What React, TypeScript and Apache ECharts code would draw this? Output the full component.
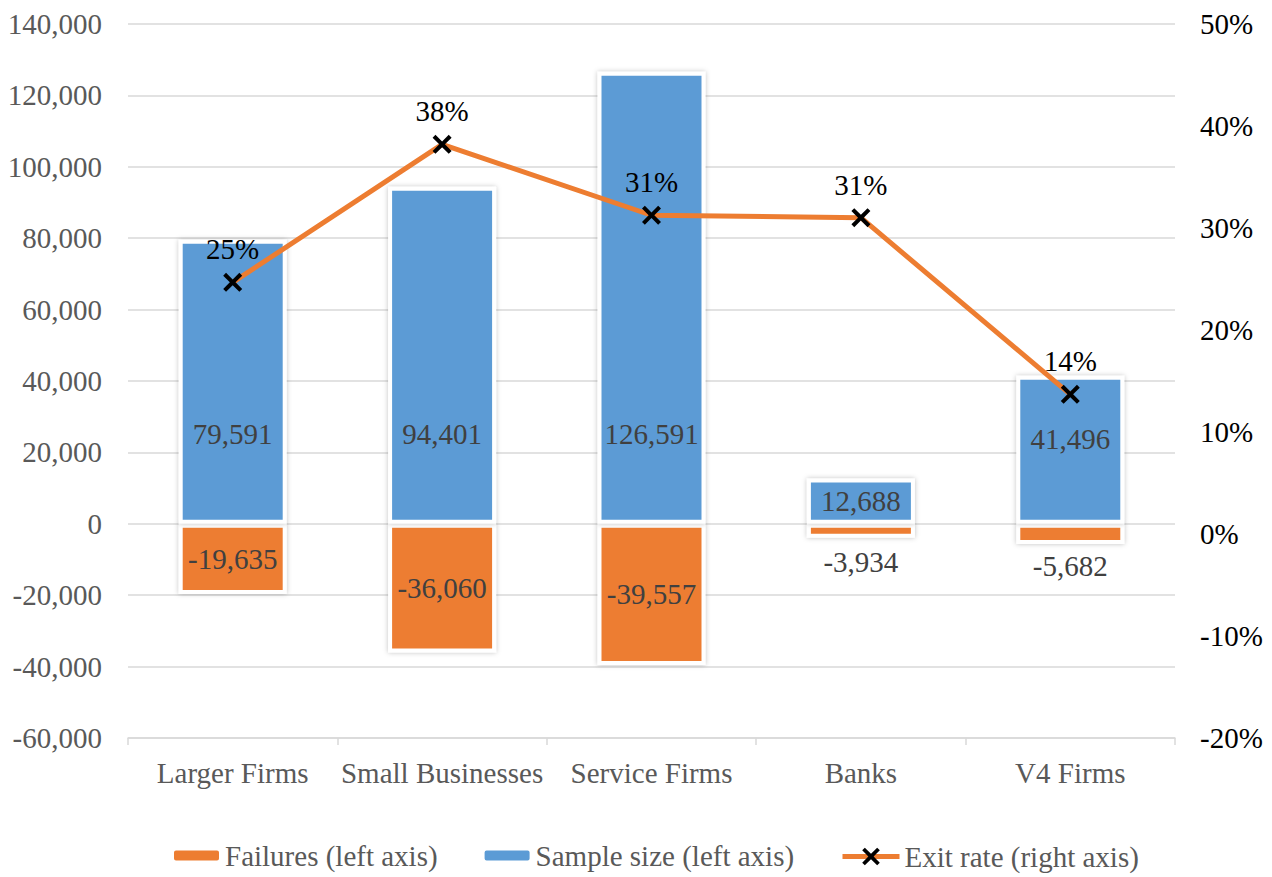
import React, { useEffect, useRef } from "react";
import * as echarts from "echarts";

const categories = ["Larger Firms", "Small Businesses", "Service Firms", "Banks", "V4 Firms"];
const failures = [-19635, -36060, -39557, -3934, -5682];
const sampleSize = [79591, 94401, 126591, 12688, 41496];
const exitRate = [24.67, 38.2, 31.25, 31.01, 13.69];

const leftMin = -60000;
const leftMax = 140000;
const leftInterval = 20000;
const rightMin = -20;
const rightMax = 50;
const rightInterval = 10;

const FONT = "'Liberation Serif', 'Times New Roman', serif";
const FS = 29;
const ORANGE = "#ED7D31";
const BLUE = "#5B9BD5";

// label placement styles (not data)
const sampleLabelStyle = [
  { position: "insideBottom", distance: 75 },
  { position: "insideBottom", distance: 75 },
  { position: "insideBottom", distance: 75 },
  { position: "inside" },
  { position: "insideBottom", distance: 70 },
];
const failureLabelStyle = [
  { position: "inside" },
  { position: "inside" },
  { position: "inside" },
  { position: "bottom", distance: 10 },
  { position: "bottom", distance: 7 },
];

const X_SYMBOL =
  "path://M3,0 L10,7 L17,0 L20,3 L13,10 L20,17 L17,20 L10,13 L3,20 L0,17 L7,10 L0,3 Z";

const fmt = (v: number) => v.toLocaleString("en-US");

export default function App() {
  const ref = useRef<HTMLDivElement>(null);

  useEffect(() => {
    if (!ref.current) return;
    const chart = echarts.init(ref.current, undefined, { renderer: "svg" });

    const barItemStyle = {
      borderColor: "#ffffff",
      borderWidth: 4,
      shadowBlur: 5,
      shadowColor: "rgba(0,0,0,0.25)",
    };

    const legendText = { fontFamily: FONT, fontSize: FS, color: "#595959" };

    const option: any = {
      animation: false,
      textStyle: { fontFamily: FONT },
      grid: { left: 128, right: 97, top: 24, bottom: 139, containLabel: false },
      legend: [
        {
          left: 167,
          top: 836,
          itemWidth: 47,
          itemHeight: 12,
          itemGap: 45,
          textStyle: legendText,
          data: ["Failures (left axis)", "Sample size (left axis)"],
        },
        {
          left: 835,
          top: 837,
          itemWidth: 57,
          itemHeight: 22,
          textStyle: legendText,
          lineStyle: { width: 5 },
          data: ["Exit rate (right axis)"],
        },
      ],
      xAxis: {
        type: "category",
        data: categories,
        axisLine: { onZero: false, lineStyle: { color: "#d9d9d9", width: 1.5 } },
        axisTick: { show: true, length: 7, lineStyle: { color: "#d9d9d9", width: 1.5 } },
        axisLabel: { fontFamily: FONT, fontSize: FS, color: "#595959", margin: 20, interval: 0 },
      },
      yAxis: [
        {
          type: "value",
          min: leftMin,
          max: leftMax,
          interval: leftInterval,
          axisLine: { show: false },
          axisTick: { show: false },
          splitLine: { lineStyle: { color: "#d9d9d9", width: 1.5 } },
          axisLabel: {
            fontFamily: FONT,
            fontSize: FS,
            color: "#595959",
            margin: 26,
            formatter: (v: number) => fmt(v),
          },
        },
        {
          type: "value",
          min: rightMin,
          max: rightMax,
          interval: rightInterval,
          axisLine: { show: false },
          axisTick: { show: false },
          splitLine: { show: false },
          axisLabel: {
            fontFamily: FONT,
            fontSize: FS,
            color: "#000000",
            margin: 25,
            formatter: (v: number) => `${Math.round(v)}%`,
          },
        },
      ],
      series: [
        {
          name: "Failures (left axis)",
          type: "bar",
          stack: "total",
          barWidth: 108,
          itemStyle: { color: ORANGE, ...barItemStyle },
          data: failures.map((v, i) => ({
            value: v,
            label: { show: true, ...failureLabelStyle[i] },
          })),
          label: {
            show: true,
            fontFamily: FONT,
            fontSize: FS,
            color: "#404040",
            formatter: (p: any) => fmt(p.value),
          },
        },
        {
          name: "Sample size (left axis)",
          type: "bar",
          stack: "total",
          barWidth: 108,
          itemStyle: { color: BLUE, ...barItemStyle },
          data: sampleSize.map((v, i) => ({
            value: v,
            label: { show: true, ...sampleLabelStyle[i] },
          })),
          label: {
            show: true,
            fontFamily: FONT,
            fontSize: FS,
            color: "#404040",
            formatter: (p: any) => fmt(p.value),
          },
        },
        {
          name: "Exit rate (right axis)",
          type: "line",
          yAxisIndex: 1,
          z: 10,
          data: exitRate,
          symbol: X_SYMBOL,
          symbolSize: 19,
          lineStyle: { color: ORANGE, width: 5 },
          itemStyle: { color: "#000000" },
          label: {
            show: true,
            position: "top",
            distance: 9,
            fontFamily: FONT,
            fontSize: FS,
            color: "#000000",
            formatter: (p: any) => `${Math.round(p.value)}%`,
          },
        },
      ],
    };

    chart.setOption(option);
    return () => chart.dispose();
  }, []);

  return (
    <div
      ref={ref}
      style={{ position: "fixed", left: 0, top: 0, width: 1272, height: 877, background: "#ffffff" }}
    />
  );
}
